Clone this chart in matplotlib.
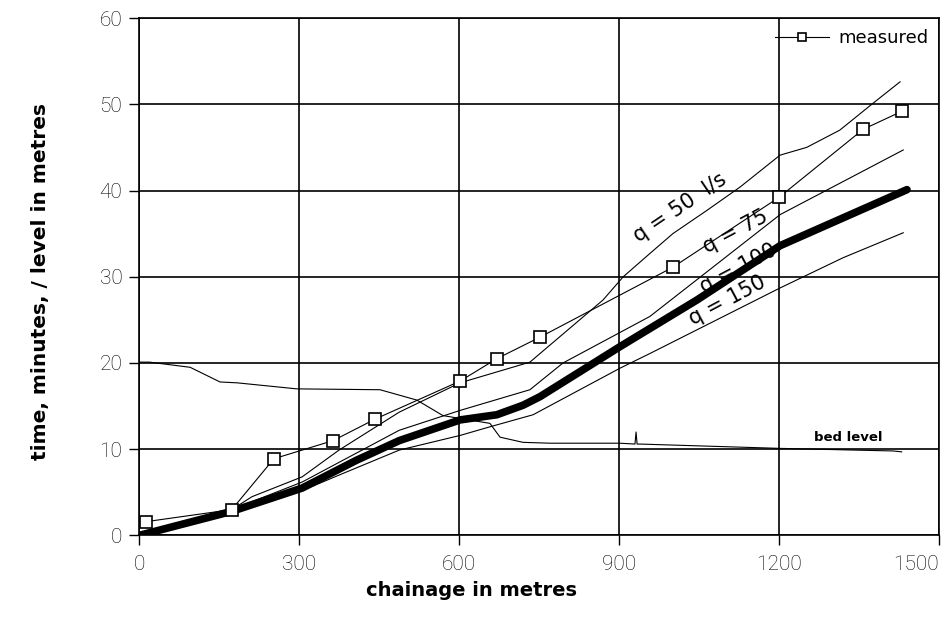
import matplotlib.pyplot as plt
import numpy as np

# measured arrival times
meas_x = [13, 174, 253, 364, 443, 602, 671, 752, 1001, 1200, 1358, 1431]
meas_y = [1.6, 3.0, 8.9, 11.0, 13.5, 17.9, 20.5, 23.0, 31.1, 39.2, 47.1, 49.2]

# computed, q = 50 l/s
q50_x = [0, 174, 212, 306, 375, 488, 602, 733, 870, 908, 958, 1001, 1065, 1127, 1202, 1252, 1314, 1376, 1427]
q50_y = [0, 3.0, 4.5, 6.8, 9.9, 14.3, 17.7, 20.1, 27.3, 30.0, 32.7, 35.0, 37.7, 40.4, 44.1, 45.0, 47.0, 50.1, 52.6]

# q = 75
q75_x = [0, 174, 306, 488, 602, 733, 795, 958, 1202, 1433]
q75_y = [0, 3.0, 6.2, 12.2, 14.5, 16.9, 20.0, 25.4, 37.2, 44.7]

# q = 100 (thick)
q100_x = [0, 174, 306, 407, 488, 602, 671, 720, 752, 902, 958, 1046, 1202, 1440]
q100_y = [0, 2.8, 5.5, 8.7, 11.0, 13.4, 14.0, 15.1, 16.1, 21.9, 24.0, 27.3, 33.6, 40.1]

# q = 150
q150_x = [0, 174, 306, 375, 488, 602, 658, 739, 902, 958, 1202, 1320, 1433]
q150_y = [0, 2.6, 5.2, 7.0, 9.9, 11.6, 12.6, 14.0, 19.4, 21.1, 28.7, 32.2, 35.1]

# bed level
bed_x = [0, 20, 96, 152, 184, 296, 452, 521, 570, 658, 677, 720, 771, 902, 930, 932, 934, 940, 1202, 1414, 1430]
bed_y = [20.1, 20.1, 19.5, 17.8, 17.7, 17.0, 16.9, 15.7, 13.9, 13.0, 11.4, 10.8, 10.7, 10.7, 10.6, 12.0, 10.6, 10.6, 10.1, 9.8, 9.7]

xticks = [0, 300, 600, 900, 1200, 1500]
yticks = [0, 10, 20, 30, 40, 50, 60]

fig = plt.figure(figsize=(9.44, 6.21), dpi=100)
ax = fig.add_axes([0.1472, 0.1377, 0.8475, 0.8333])

ax.plot(bed_x, bed_y, color='black', lw=0.8)
ax.plot(q50_x, q50_y, color='black', lw=0.8)
ax.plot(q75_x, q75_y, color='black', lw=0.8)
ax.plot(q150_x, q150_y, color='black', lw=0.8)
ax.plot(q100_x, q100_y, color='black', lw=5.5, solid_capstyle='round')
ax.plot(meas_x, meas_y, color='black', lw=0.8, marker='s', markersize=8,
        markerfacecolor='white', markeredgecolor='black', markeredgewidth=1.2,
        label='measured')

ax.set_xlim(0, 1500)
ax.set_ylim(0, 60)
ax.set_xticks(xticks)
ax.set_yticks(yticks)
tick_font = dict(family=['Roboto', 'DejaVu Sans'], size=15, weight='light')
ax.set_xticklabels([str(v) for v in xticks], **tick_font)
ax.set_yticklabels([str(v) for v in yticks], **tick_font)
ax.get_xticklabels()[-1].set_ha('right')
ax.tick_params(direction='out', length=7, width=1, color='black')
ax.tick_params(axis='x', pad=7)
ax.tick_params(axis='y', pad=5)
ax.grid(True, color='black', lw=1.2)
for s in ax.spines.values():
    s.set_linewidth(1.2)

ax.set_xlabel('chainage in metres', fontsize=14, fontweight='bold')
ax.set_ylabel('time, minutes, / level in metres', fontsize=14.5, fontweight='bold')
ax.xaxis.set_label_coords(0.416, -0.087)
ax.yaxis.set_label_coords(-0.111, 0.49)

lbl = dict(fontsize=15, ha='center', va='center', rotation_mode='anchor')
ax.text(1014, 38.0, 'q = 50  l/s', rotation=34, **lbl)
ax.text(1118, 35.2, 'q = 75', rotation=28, **lbl)
ax.text(1123, 31.0, 'q = 100', rotation=28, **lbl)
ax.text(1104, 27.3, 'q = 150', rotation=28, **lbl)
ax.text(1329, 11.4, 'bed level', fontsize=9.5, fontweight='bold', ha='center', va='center')

ax.legend(loc='upper right', frameon=False, fontsize=13, handlelength=3,
          borderaxespad=0.2, handletextpad=0.5, markerscale=0.8)

fig.savefig('out.png', dpi=100)
